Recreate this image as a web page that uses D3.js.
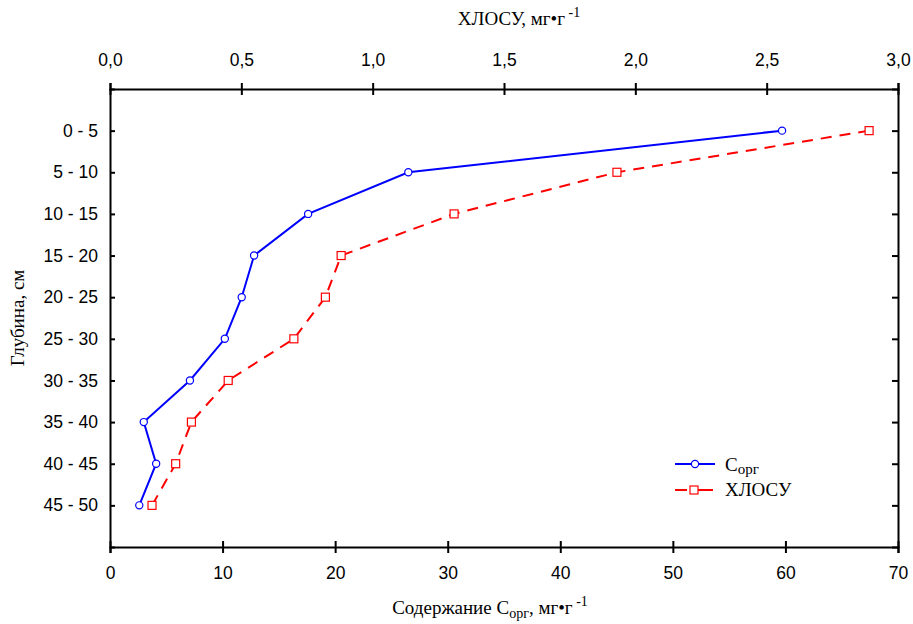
<!DOCTYPE html>
<html>
<head>
<meta charset="utf-8">
<script src="https://cdn.jsdelivr.net/npm/d3@7"></script>
<style>
  body { margin: 0; background: #fff; }
  svg { display: block; }
  .tick text { font-family: "Liberation Sans", Arial, sans-serif; font-size: 17.5px; fill: #000; }
  .ttl { font-family: "Liberation Serif", "Times New Roman", serif; font-size: 19px; fill: #000; }
</style>
</head>
<body>
<svg class="chart" width="913" height="624"></svg>
<script>
// depth layers (cm)
const depths = ["0 - 5", "5 - 10", "10 - 15", "15 - 20", "20 - 25",
  "25 - 30", "30 - 35", "35 - 40", "40 - 45", "45 - 50"]

// C org, mg/g (bottom axis)
const corg = [59.7, 26.5, 17.6, 12.8, 11.7, 10.2, 7.1, 3.0, 4.1, 2.6]

// ХЛОСУ, mg/g (top axis)
const chlosu = [2.89, 1.93, 1.31, 0.88, 0.82, 0.70, 0.45, 0.31, 0.25, 0.16]

const bottomTicks = [0, 10, 20, 30, 40, 50, 60, 70]
const topTicks = [0, 0.5, 1, 1.5, 2, 2.5, 3]

const svg = d3.select("svg.chart")

const plotL = 110, plotR = 898, plotT = 89, plotB = 547

const xBottom = d3.scaleLinear().domain([0, 70]).range([plotL, plotR])
const xTop = d3.scaleLinear().domain([0, 3]).range([plotL, plotR])
const y = d3.scalePoint().domain(depths).range([plotT, plotB]).padding(1)

const commaFmt = d => d3.format(".1f")(d).replace(".", ",")

// axes
const gBottom = svg.append("g")
  .attr("transform", "translate(0," + plotB + ")")
  .call(d3.axisBottom(xBottom).tickValues(bottomTicks).tickSizeOuter(0).tickSize(6).tickPadding(14))
gBottom.selectAll(".tick line").attr("y1", -6)

const gTop = svg.append("g")
  .attr("transform", "translate(0," + plotT + ")")
  .call(d3.axisTop(xTop).tickValues(topTicks).tickFormat(commaFmt).tickSizeOuter(0).tickSize(6).tickPadding(17))
gTop.selectAll(".tick line").attr("y1", 6)

const gLeft = svg.append("g")
  .attr("transform", "translate(" + plotL + ",0)")
  .call(d3.axisLeft(y).tickSizeOuter(0).tickSize(-5).tickPadding(12))

const gRight = svg.append("g")
  .attr("transform", "translate(" + plotR + ",0)")
  .call(d3.axisRight(y).tickSizeOuter(0).tickSize(-6).tickFormat(""))

svg.selectAll(".domain, .tick line")
  .attr("stroke", "#000")
  .attr("stroke-width", 2)

// axis titles
const topTitle = svg.append("text").attr("class", "ttl")
  .attr("x", (plotL + plotR) / 2 + 15).attr("y", 25).attr("text-anchor", "middle")
topTitle.append("tspan").text("ХЛОСУ, мг•г")
topTitle.append("tspan").attr("dy", -8).attr("font-size", 14).text(" -1")

const botTitle = svg.append("text").attr("class", "ttl")
  .attr("x", (plotL + plotR) / 2 - 14).attr("y", 614).attr("text-anchor", "middle")
botTitle.append("tspan").text("Содержание С")
botTitle.append("tspan").attr("dy", 4).attr("font-size", 14).text("орг")
botTitle.append("tspan").attr("dy", -4).text(", мг•г")
botTitle.append("tspan").attr("dy", -8).attr("font-size", 14).text(" -1")

svg.append("text").attr("class", "ttl")
  .attr("transform", "translate(24," + ((plotT + plotB) / 2) + ") rotate(-90)")
  .attr("text-anchor", "middle")
  .attr("fill", "#1a1f4f")
  .text("Глубина, см")

// series
const lineCorg = d3.line()
  .x(d => xBottom(d))
  .y((d, i) => y(depths[i]))

const lineChl = d3.line()
  .x(d => xTop(d))
  .y((d, i) => y(depths[i]))

svg.append("path")
  .datum(chlosu)
  .attr("d", lineChl)
  .attr("fill", "none")
  .attr("stroke", "#ff0000")
  .attr("stroke-width", 2)
  .attr("stroke-dasharray", "11,8")

svg.append("path")
  .datum(corg)
  .attr("d", lineCorg)
  .attr("fill", "none")
  .attr("stroke", "#0000ff")
  .attr("stroke-width", 2)

svg.selectAll("rect.chl")
  .data(chlosu)
  .enter()
  .append("rect")
  .attr("class", "chl")
  .attr("x", d => xTop(d) - 4)
  .attr("y", (d, i) => y(depths[i]) - 4)
  .attr("width", 8)
  .attr("height", 8)
  .attr("fill", "#fff")
  .attr("stroke", "#ff0000")
  .attr("stroke-width", 1.2)

svg.selectAll("circle.corg")
  .data(corg)
  .enter()
  .append("circle")
  .attr("class", "corg")
  .attr("cx", d => xBottom(d))
  .attr("cy", (d, i) => y(depths[i]))
  .attr("r", 3.6)
  .attr("fill", "#fff")
  .attr("stroke", "#0000ff")
  .attr("stroke-width", 1.2)

// legend
const legend = svg.append("g").attr("transform", "translate(675,464)")

legend.append("line")
  .attr("x1", 0).attr("x2", 40).attr("y1", 0).attr("y2", 0)
  .attr("stroke", "#0000ff").attr("stroke-width", 2)
legend.append("circle")
  .attr("cx", 20).attr("cy", 0).attr("r", 3.6)
  .attr("fill", "#fff").attr("stroke", "#0000ff").attr("stroke-width", 1.2)
const leg1 = legend.append("text").attr("class", "ttl")
  .attr("x", 50).attr("y", 7).attr("font-size", 19)
leg1.append("tspan").text("С")
leg1.append("tspan").attr("dy", 3).attr("font-size", 15).text("орг")

legend.append("line")
  .attr("x1", 0).attr("x2", 38).attr("y1", 26).attr("y2", 26)
  .attr("stroke", "#ff0000").attr("stroke-width", 2)
  .attr("stroke-dasharray", "12,6,20")
legend.append("rect")
  .attr("x", 15).attr("y", 22).attr("width", 8).attr("height", 8)
  .attr("fill", "#fff").attr("stroke", "#ff0000").attr("stroke-width", 1.2)
legend.append("text").attr("class", "ttl")
  .attr("x", 50).attr("y", 32).attr("font-size", 18)
  .text("ХЛОСУ")
</script>
</body>
</html>
